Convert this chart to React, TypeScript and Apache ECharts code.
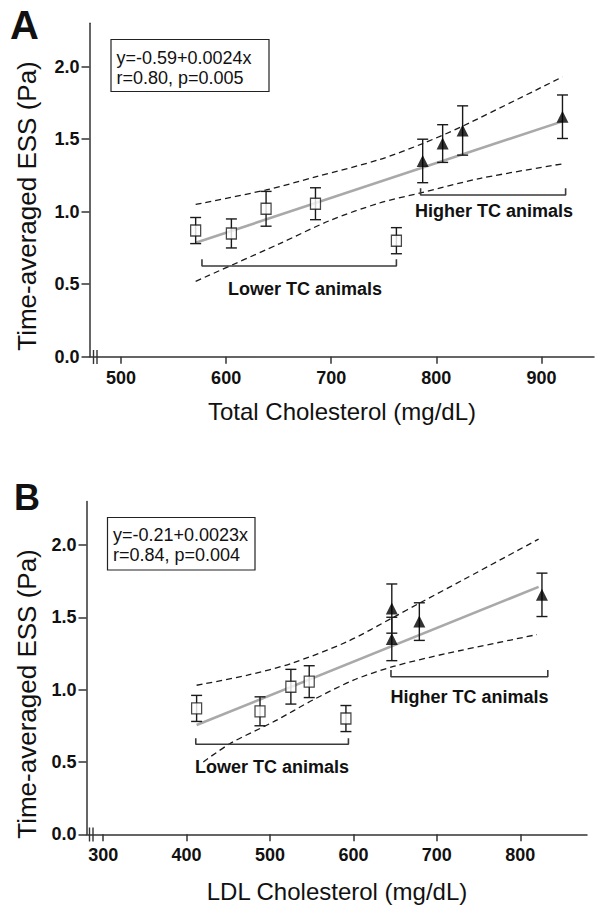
import React, { useEffect, useRef } from 'react';
import * as echarts from 'echarts';

// ---- Data ----
// Time-averaged ESS (Pa), same animals in both panels
const essLower = [0.87, 0.85, 1.02, 1.055, 0.8];
const errLower = [0.09, 0.1, 0.12, 0.11, 0.09];
const essHigher = [1.35, 1.47, 1.56, 1.655];
const errHigher = [0.15, 0.13, 0.17, 0.15];

// Panel A: Total cholesterol (mg/dL)
const tcLower = [571, 605, 638, 685, 762];
const tcHigher = [787, 806, 825, 920];
// Panel B: LDL cholesterol (mg/dL)
const ldlLower = [412, 488, 525, 547, 591];
const ldlHigher = [646, 679, 646, 826];

// regression lines (end points) and 95% confidence bands
const fitA = [[571, 0.786], [920, 1.623]];
const upperA = [[571, 1.05], [638, 1.15], [685, 1.24], [746, 1.36], [787, 1.47], [825, 1.59], [920, 1.93]];
const lowerA = [[571, 0.52], [651, 0.78], [699, 0.94], [746, 1.06], [785, 1.13], [842, 1.23], [920, 1.33]];
const fitB = [[412, 0.755], [822, 1.71]];
const upperB = [[412, 1.03], [473, 1.1], [525, 1.18], [592, 1.33], [648, 1.5], [680, 1.6], [732, 1.76], [822, 2.04]];
const lowerB = [[420, 0.5], [453, 0.63], [505, 0.78], [552, 0.93], [600, 1.065], [648, 1.16], [712, 1.25], [820, 1.38]];

// group brackets: [xStart, xEnd, yLine, yTickTop]
const bracketsA = [[577, 762, 0.626, 0.672], [785, 923, 1.115, 1.161]];
const bracketsB = [[411, 594, 0.622, 0.663], [645, 833, 1.089, 1.135]];

const yTicks = [0, 0.5, 1, 1.5, 2];
const xTicksA = [500, 600, 700, 800, 900];
const xTicksB = [300, 400, 500, 600, 700, 800];

const eqA = ['y=-0.59+0.0024x', 'r=0.80, p=0.005'];
const eqB = ['y=-0.21+0.0023x', 'r=0.84, p=0.004'];

const FONT = '"Liberation Sans", Arial, Helvetica, sans-serif';
const INK = '#1a1a1a';

function buildPanel(idx: number, xLower: number[], xHigher: number[], fit: number[][], upper: number[][], lower: number[][], brackets: number[][]) {
  const errData = [
    ...xLower.map((x, i) => [x, essLower[i] - errLower[i], essLower[i] + errLower[i]]),
    ...xHigher.map((x, i) => [x, essHigher[i] - errHigher[i], essHigher[i] + errHigher[i]]),
  ];
  const common = { xAxisIndex: idx, yAxisIndex: idx, silent: true };
  const dashed = { color: INK, width: 1.3, type: [6, 4] as any };
  const series: any[] = [
    { ...common, type: 'line', data: upper, smooth: 0.3, showSymbol: false, symbol: 'none', lineStyle: dashed, z: 2 },
    { ...common, type: 'line', data: lower, smooth: 0.3, showSymbol: false, symbol: 'none', lineStyle: dashed, z: 2 },
    { ...common, type: 'line', data: fit, showSymbol: false, symbol: 'none', lineStyle: { color: '#a9a9a9', width: 2.6 }, z: 2 },
  ];
  brackets.forEach((b) => {
    series.push({
      ...common,
      type: 'line',
      data: [[b[0], b[3]], [b[0], b[2]], [b[1], b[2]], [b[1], b[3]]],
      showSymbol: false,
      symbol: 'none',
      lineStyle: { color: '#3a3a3a', width: 1.6 },
      z: 2,
    });
  });
  series.push({
    ...common,
    type: 'custom',
    data: errData,
    encode: { x: 0, y: [1, 2] },
    z: 3,
    renderItem: (params: any, api: any) => {
      const x = api.value(0);
      const lo = api.coord([x, api.value(1)]);
      const hi = api.coord([x, api.value(2)]);
      const w = 5.5;
      const st = { stroke: INK, lineWidth: 1.4 };
      return {
        type: 'group',
        children: [
          { type: 'line', shape: { x1: lo[0], y1: lo[1], x2: hi[0], y2: hi[1] }, style: st },
          { type: 'line', shape: { x1: lo[0] - w, y1: lo[1], x2: lo[0] + w, y2: lo[1] }, style: st },
          { type: 'line', shape: { x1: hi[0] - w, y1: hi[1], x2: hi[0] + w, y2: hi[1] }, style: st },
        ],
      };
    },
  });
  series.push({
    ...common,
    type: 'scatter',
    data: xLower.map((x, i) => [x, essLower[i]]),
    symbol: 'rect',
    symbolSize: [10, 11],
    itemStyle: { color: '#fff', borderColor: INK, borderWidth: 1.3 },
    z: 4,
  });
  series.push({
    ...common,
    type: 'scatter',
    data: xHigher.map((x, i) => [x, essHigher[i]]),
    symbol: 'triangle',
    symbolSize: [12, 12],
    itemStyle: { color: '#000' },
    z: 4,
  });
  return series;
}

function xAxis(idx: number, min: number, max: number, ticks: number[]) {
  return {
    type: 'value',
    gridIndex: idx,
    min,
    max,
    splitLine: { show: false },
    axisLine: { show: true, onZero: false, lineStyle: { color: '#333', width: 1.5 } },
    axisTick: { show: true, length: 7, customValues: ticks, lineStyle: { color: '#333', width: 1.5 } },
    axisLabel: { customValues: ticks, margin: 12, fontSize: 18, fontWeight: 'bold', color: '#111', fontFamily: FONT },
  };
}

function yAxis(idx: number) {
  return {
    type: 'value',
    gridIndex: idx,
    min: 0,
    max: 2.3,
    splitLine: { show: false },
    axisLine: { show: true, onZero: false, lineStyle: { color: '#333', width: 1.5 } },
    axisTick: { show: true, length: 8, customValues: yTicks, lineStyle: { color: '#333', width: 1.5 } },
    axisLabel: {
      customValues: yTicks,
      margin: 10,
      fontSize: 18,
      fontWeight: 'bold',
      color: '#111',
      fontFamily: FONT,
      formatter: (v: number) => v.toFixed(1),
    },
  };
}

function txt(text: string, x: number, y: number, size: number, weight: string, align = 'center', rotation = 0) {
  return {
    type: 'text',
    x,
    y,
    rotation,
    silent: true,
    style: { text, fontSize: size, fontWeight: weight, fontFamily: FONT, fill: '#111', align, verticalAlign: 'middle' },
  };
}

function breakMarks(x1: number, x2: number, yc: number) {
  const st = { stroke: '#333', lineWidth: 1.4 };
  return [
    { type: 'line', silent: true, shape: { x1, y1: yc - 7, x2: x1, y2: yc + 7 }, style: st },
    { type: 'line', silent: true, shape: { x1: x2, y1: yc - 7, x2, y2: yc + 7 }, style: st },
  ];
}

export default function App() {
  const ref = useRef<HTMLDivElement>(null);
  useEffect(() => {
    const chart = echarts.init(ref.current!, undefined, { renderer: 'svg' });
    const option: any = {
      animation: false,
      backgroundColor: '#fff',
      grid: [
        { left: 89.5, top: 23.2, width: 504.5, height: 333.5 },
        { left: 86.5, top: 501.5, width: 500.5, height: 332.8 },
      ],
      xAxis: [xAxis(0, 470, 950, xTicksA), xAxis(1, 280, 880, xTicksB)],
      yAxis: [yAxis(0), yAxis(1)],
      series: [
        ...buildPanel(0, tcLower, tcHigher, fitA, upperA, lowerA, bracketsA),
        ...buildPanel(1, ldlLower, ldlHigher, fitB, upperB, lowerB, bracketsB),
      ],
      graphic: [
        txt('A', 10, 25, 40, 'bold', 'left'),
        txt('B', 14, 497, 36, 'bold', 'left'),
        txt('Time-averaged ESS (Pa)', 27, 206, 26, 'normal', 'center', Math.PI / 2),
        txt('Time-averaged ESS (Pa)', 27, 694, 26, 'normal', 'center', Math.PI / 2),
        txt('Total Cholesterol (mg/dL)', 342, 411, 24, 'normal'),
        txt('LDL Cholesterol (mg/dL)', 337, 891, 24, 'normal'),
        {
          type: 'rect',
          silent: true,
          shape: { x: 111, y: 39.5, width: 158, height: 52 },
          style: { fill: '#fff', stroke: '#222', lineWidth: 1.2 },
        },
        txt(eqA[0], 116.5, 57.5, 18, 'normal', 'left'),
        txt(eqA[1], 116.5, 77.5, 18, 'normal', 'left'),
        {
          type: 'rect',
          silent: true,
          shape: { x: 107.5, y: 517.5, width: 147.5, height: 52.5 },
          style: { fill: '#fff', stroke: '#222', lineWidth: 1.2 },
        },
        txt(eqB[0], 113, 534.5, 18, 'normal', 'left'),
        txt(eqB[1], 113, 554.5, 18, 'normal', 'left'),
        txt('Lower TC animals', 305, 289, 18, 'bold'),
        txt('Higher TC animals', 494, 210.5, 18, 'bold'),
        txt('Lower TC animals', 272, 767, 18, 'bold'),
        txt('Higher TC animals', 469.5, 697, 18, 'bold'),
        ...breakMarks(93.5, 97, 357),
        ...breakMarks(89.5, 93, 834.5),
      ],
    };
    chart.setOption(option);
    return () => chart.dispose();
  }, []);
  return (
    <div
      ref={ref}
      style={{ position: 'fixed', left: 0, top: 0, width: 604, height: 914, background: '#fff' }}
    />
  );
}
